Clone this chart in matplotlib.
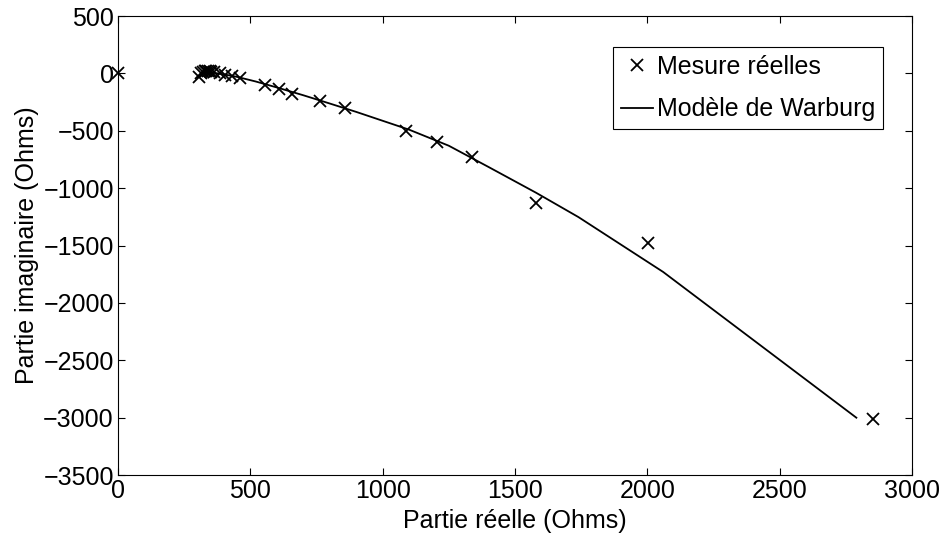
import matplotlib
matplotlib.use("Agg")
import matplotlib.pyplot as plt

plt.rcParams["font.family"] = ["Liberation Sans", "DejaVu Sans"]

# measured impedance points (real, imaginary) in Ohms
mesure_re = [0, 305, 315, 322, 328, 334, 340, 346, 352, 362, 385, 404, 430, 461,
             555, 608, 656, 763, 858, 1088, 1206, 1339, 1581, 2003, 2853]
mesure_im = [0, -30, 5, 15, 20, 22, 20, 18, 15, 10, 8, -10, -25, -43,
             -105, -140, -183, -243, -304, -499, -600, -731, -1127, -1481, -3014]

# Warburg model curve
modele_re = [320, 345, 370, 400, 450, 520, 600, 700, 800, 900, 1100, 1250, 1400,
             1580, 1740, 2060, 2790]
modele_im = [10, 8, 3, -8, -30, -70, -122, -190, -262, -335, -490, -630, -815,
             -1040, -1252, -1730, -3000]

fig = plt.figure(figsize=(9.46, 5.35), dpi=100)
ax = fig.add_axes([0.1247, 0.112, 0.8393, 0.858])

ax.plot(mesure_re, mesure_im, "kx", markersize=9, markeredgewidth=1.3,
        clip_on=False, label="Mesure réelles")
ax.plot(modele_re, modele_im, "k-", linewidth=1.3, label="Modèle de Warburg")

ax.set_xlim(0, 3000)
ax.set_ylim(-3500, 500)
ax.set_xticks(range(0, 3001, 500))
ax.set_yticks(range(-3500, 501, 500))
ax.tick_params(direction="in", length=5, width=0.8, top=True, right=True,
               labelsize=18, pad=3)
for s in ax.spines.values():
    s.set_linewidth(0.8)

ax.set_xlabel("Partie réelle (Ohms)", fontsize=18, labelpad=4)
ax.set_ylabel("Partie imaginaire (Ohms)", fontsize=18, labelpad=3)

leg = ax.legend(loc="upper right", bbox_to_anchor=(0.9635, 0.9325), fontsize=18,
                frameon=True, fancybox=False, edgecolor="black", framealpha=1,
                handlelength=1.3, handletextpad=0.15, borderpad=0.3,
                labelspacing=0.75, borderaxespad=0)
leg.get_frame().set_linewidth(0.8)

fig.savefig("out.png", dpi=100)
